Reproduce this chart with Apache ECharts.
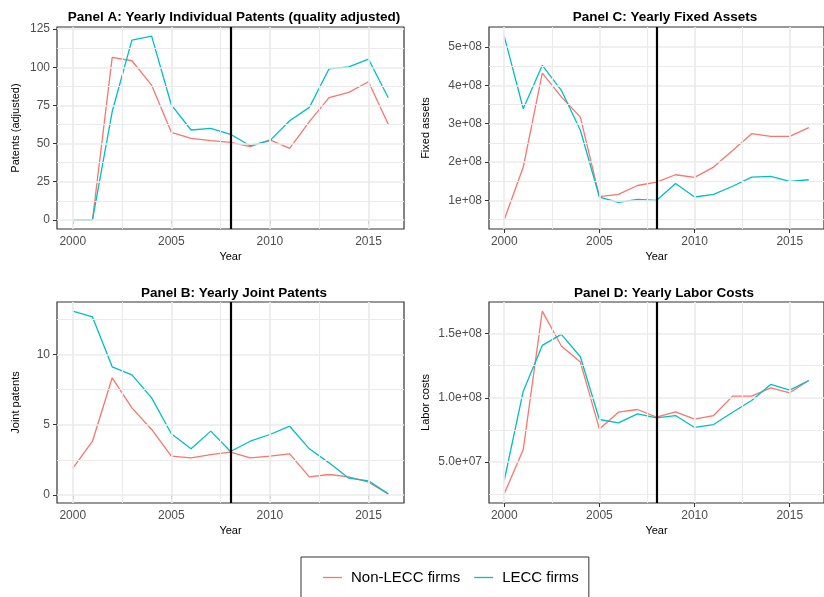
<!DOCTYPE html>
<html>
<head>
<meta charset="utf-8">
<title>LECC firms: patents, fixed assets and labor costs</title>
<script src="https://cdn.jsdelivr.net/npm/echarts@6/dist/echarts.min.js"></script>
<style>
  html, body { margin: 0; padding: 0; background: #ffffff; }
  #chart { width: 824px; height: 597px; }
</style>
</head>
<body>
<div id="chart"></div>
<script>
// ---- data ----
const years = [2000, 2001, 2002, 2003, 2004, 2005, 2006, 2007, 2008,
               2009, 2010, 2011, 2012, 2013, 2014, 2015, 2016];

const patentsNonLecc = [0, 0, 106.5, 104.3, 88.3, 57.4, 53.4, 51.9, 50.8,
                        48.0, 52.4, 46.9, 64.4, 80.1, 83.6, 90.5, 62.6];
const patentsLecc    = [0, 0, 71.0, 117.8, 120.4, 75.3, 58.9, 60.0, 56.1,
                        48.6, 51.9, 65.0, 73.7, 99.0, 100.3, 105.4, 80.0];

const jointNonLecc = [1.88, 3.82, 8.34, 6.2, 4.66, 2.76, 2.64, 2.87, 3.04,
                      2.64, 2.76, 2.92, 1.28, 1.45, 1.28, 0.9, 0.07];
const jointLecc    = [13.09, 12.68, 9.12, 8.55, 6.91, 4.35, 3.28, 4.54, 3.09,
                      3.82, 4.30, 4.89, 3.28, 2.28, 1.19, 1.0, 0.07];

const assetsNonLecc = [0.496e8, 1.87e8, 4.32e8, 3.70e8, 3.17e8, 1.10e8, 1.16e8, 1.39e8, 1.48e8,
                       1.67e8, 1.60e8, 1.87e8, 2.30e8, 2.74e8, 2.67e8, 2.67e8, 2.90e8];
const assetsLecc    = [5.28e8, 3.39e8, 4.52e8, 3.87e8, 2.83e8, 1.09e8, 0.95e8, 1.03e8, 1.00e8,
                       1.44e8, 1.09e8, 1.16e8, 1.37e8, 1.61e8, 1.63e8, 1.50e8, 1.54e8];

const laborNonLecc = [25.2e6, 59.7e6, 167.5e6, 140.3e6, 127.8e6, 75.8e6, 88.8e6, 90.9e6, 84.9e6,
                      89.1e6, 83.4e6, 86.2e6, 101.3e6, 101.3e6, 107.8e6, 103.9e6, 113.5e6];
const laborLecc    = [35.6e6, 105.2e6, 140.8e6, 149.4e6, 132.0e6, 83.1e6, 80.5e6, 87.5e6, 84.4e6,
                      86.2e6, 76.9e6, 79.2e6, 88.8e6, 97.9e6, 110.4e6, 106.0e6, 113.5e6];

const seriesNames = ['Non-LECC firms', 'LECC firms'];
const policyYear = 2008;

// ---- axis breaks ----
const yearTicks = [2000, 2005, 2010, 2015];
const yearMinor = [2002.5, 2007.5, 2012.5];

const patentsTicks = [0, 25, 50, 75, 100, 125];
const patentsLabels = ['0', '25', '50', '75', '100', '125'];
const patentsMinor = [12.5, 37.5, 62.5, 87.5, 112.5];

const jointTicks = [0, 5, 10];
const jointLabels = ['0', '5', '10'];
const jointMinor = [2.5, 7.5, 12.5];

const assetsTicks = [1e8, 2e8, 3e8, 4e8, 5e8];
const assetsLabels = ['1e+08', '2e+08', '3e+08', '4e+08', '5e+08'];
const assetsMinor = [0.5e8, 1.5e8, 2.5e8, 3.5e8, 4.5e8];

const laborTicks = [5e7, 1e8, 1.5e8];
const laborLabels = ['5.0e+07', '1.0e+08', '1.5e+08'];
const laborMinor = [2.5e7, 7.5e7, 1.25e8];

// ---- styling ----
const FONT = '"Liberation Sans", Arial, sans-serif';
const COLORS = ['#F8766D', '#00BFC4'];
const GRID_COLOR = '#EBEBEB';

// ggplot-style 5% expansion of the data range
function expand(arrs) {
  const all = [].concat(...arrs);
  const lo = Math.min(...all), hi = Math.max(...all);
  const pad = (hi - lo) * 0.05;
  return [lo - pad, hi + pad];
}

const xSpan = years[years.length - 1] - years[0];
const xRange = [years[0] - xSpan * 0.05, years[years.length - 1] + xSpan * 0.05];

const panels = [
  { title: 'Panel A: Yearly Individual Patents (quality adjusted)', yName: 'Patents (adjusted)',
    grid: { left: 57, right: 420, top: 27, height: 202 }, titleX: 229, titleY: 5,
    series: [patentsNonLecc, patentsLecc], ticks: patentsTicks, labels: patentsLabels,
    minor: patentsMinor, nameGap: 36 },
  { title: 'Panel C: Yearly Fixed Assets', yName: 'Fixed assets',
    grid: { left: 489, right: -11, top: 27, height: 202 }, titleX: 660, titleY: 5,
    series: [assetsNonLecc, assetsLecc], ticks: assetsTicks, labels: assetsLabels,
    minor: assetsMinor, nameGap: 58 },
  { title: 'Panel B: Yearly Joint Patents', yName: 'Joint patents',
    grid: { left: 57, right: 420, top: 302, height: 201 }, titleX: 229, titleY: 281,
    series: [jointNonLecc, jointLecc], ticks: jointTicks, labels: jointLabels,
    minor: jointMinor, nameGap: 36 },
  { title: 'Panel D: Yearly Labor Costs', yName: 'Labor costs',
    grid: { left: 489, right: -11, top: 302, height: 201 }, titleX: 659, titleY: 281,
    series: [laborNonLecc, laborLecc], ticks: laborTicks, labels: laborLabels,
    minor: laborMinor, nameGap: 58 }
];

const option = {
  animation: false,
  backgroundColor: '#ffffff',
  textStyle: { fontFamily: FONT },
  title: [],
  grid: [],
  xAxis: [],
  yAxis: [],
  series: [],
  legend: {
    data: seriesNames,
    left: 301,
    top: 557,
    orient: 'horizontal',
    padding: [13, 10, 24, 22],
    borderColor: '#333333',
    borderWidth: 1,
    icon: 'rect',
    itemWidth: 19,
    itemHeight: 1.3,
    itemGap: 14,
    textStyle: { fontFamily: FONT, fontSize: 15, color: '#000000', padding: [0, 0, 0, 4] }
  }
};

panels.forEach((p, i) => {
  const yr = expand(p.series);
  option.title.push({
    text: p.title, left: p.titleX, top: p.titleY, textAlign: 'center',
    textStyle: { fontFamily: FONT, fontSize: 13.5, fontWeight: 'bold', color: '#000000' }
  });
  option.grid.push(Object.assign({
    show: true, borderColor: '#333333', borderWidth: 1.2, backgroundColor: '#ffffff', containLabel: false
  }, p.grid));
  option.xAxis.push({
    type: 'value', gridIndex: i, min: xRange[0], max: xRange[1],
    name: 'Year', nameLocation: 'middle', nameGap: 22,
    nameTextStyle: { fontFamily: FONT, fontSize: 11, color: '#000000' },
    axisLine: { show: false },
    axisTick: { show: true, length: 4, customValues: yearTicks, lineStyle: { color: '#333333', width: 1 } },
    axisLabel: { customValues: yearTicks, margin: 7, fontFamily: FONT, fontSize: 12, color: '#4D4D4D',
                 formatter: v => String(v) },
    splitLine: { show: false }
  });
  option.yAxis.push({
    type: 'value', gridIndex: i, min: yr[0], max: yr[1],
    name: p.yName, nameLocation: 'middle', nameGap: p.nameGap, nameRotate: 90,
    nameTextStyle: { fontFamily: FONT, fontSize: 11, color: '#000000' },
    axisLine: { show: false },
    axisTick: { show: true, length: 4, customValues: p.ticks, lineStyle: { color: '#333333', width: 1 } },
    axisLabel: { customValues: p.ticks, margin: 7, fontFamily: FONT, fontSize: 12, color: '#4D4D4D',
                 formatter: v => p.labels[p.ticks.indexOf(v)] },
    splitLine: { show: false }
  });

  // panel gridlines (major and minor) drawn through the axis scales
  const major = { color: GRID_COLOR, width: 1.7, type: 'solid' };
  const minorStyle = { color: GRID_COLOR, width: 1.1, type: 'solid' };
  const gridMarks = []
    .concat(yearTicks.map(v => ({ xAxis: v, lineStyle: major })))
    .concat(yearMinor.map(v => ({ xAxis: v, lineStyle: minorStyle })))
    .concat(p.ticks.map(v => ({ yAxis: v, lineStyle: major })))
    .concat(p.minor.filter(v => v > yr[0] && v < yr[1]).map(v => ({ yAxis: v, lineStyle: minorStyle })));
  option.series.push({
    name: 'panel-grid-' + i, type: 'line', xAxisIndex: i, yAxisIndex: i, data: [], z: 1, silent: true,
    markLine: { symbol: ['none', 'none'], silent: true, animation: false, label: { show: false },
                emphasis: { disabled: true }, data: gridMarks }
  });

  p.series.forEach((vals, k) => {
    option.series.push({
      name: seriesNames[k], type: 'line', xAxisIndex: i, yAxisIndex: i, z: 3,
      data: years.map((y, j) => [y, vals[j]]),
      showSymbol: false, symbol: 'none',
      color: COLORS[k],
      lineStyle: { color: COLORS[k], width: 1.3 },
      itemStyle: { color: COLORS[k] },
      emphasis: { disabled: true }
    });
  });

  // policy year marker
  option.series.push({
    name: 'policy-' + i, type: 'line', xAxisIndex: i, yAxisIndex: i, data: [], z: 5, silent: true,
    markLine: { symbol: ['none', 'none'], silent: true, animation: false, label: { show: false },
                emphasis: { disabled: true },
                data: [{ xAxis: policyYear, lineStyle: { color: '#000000', width: 2.2, type: 'solid' } }] }
  });
});

const chart = echarts.init(document.getElementById('chart'), null, { renderer: 'canvas' });
chart.setOption(option);
</script>
</body>
</html>
